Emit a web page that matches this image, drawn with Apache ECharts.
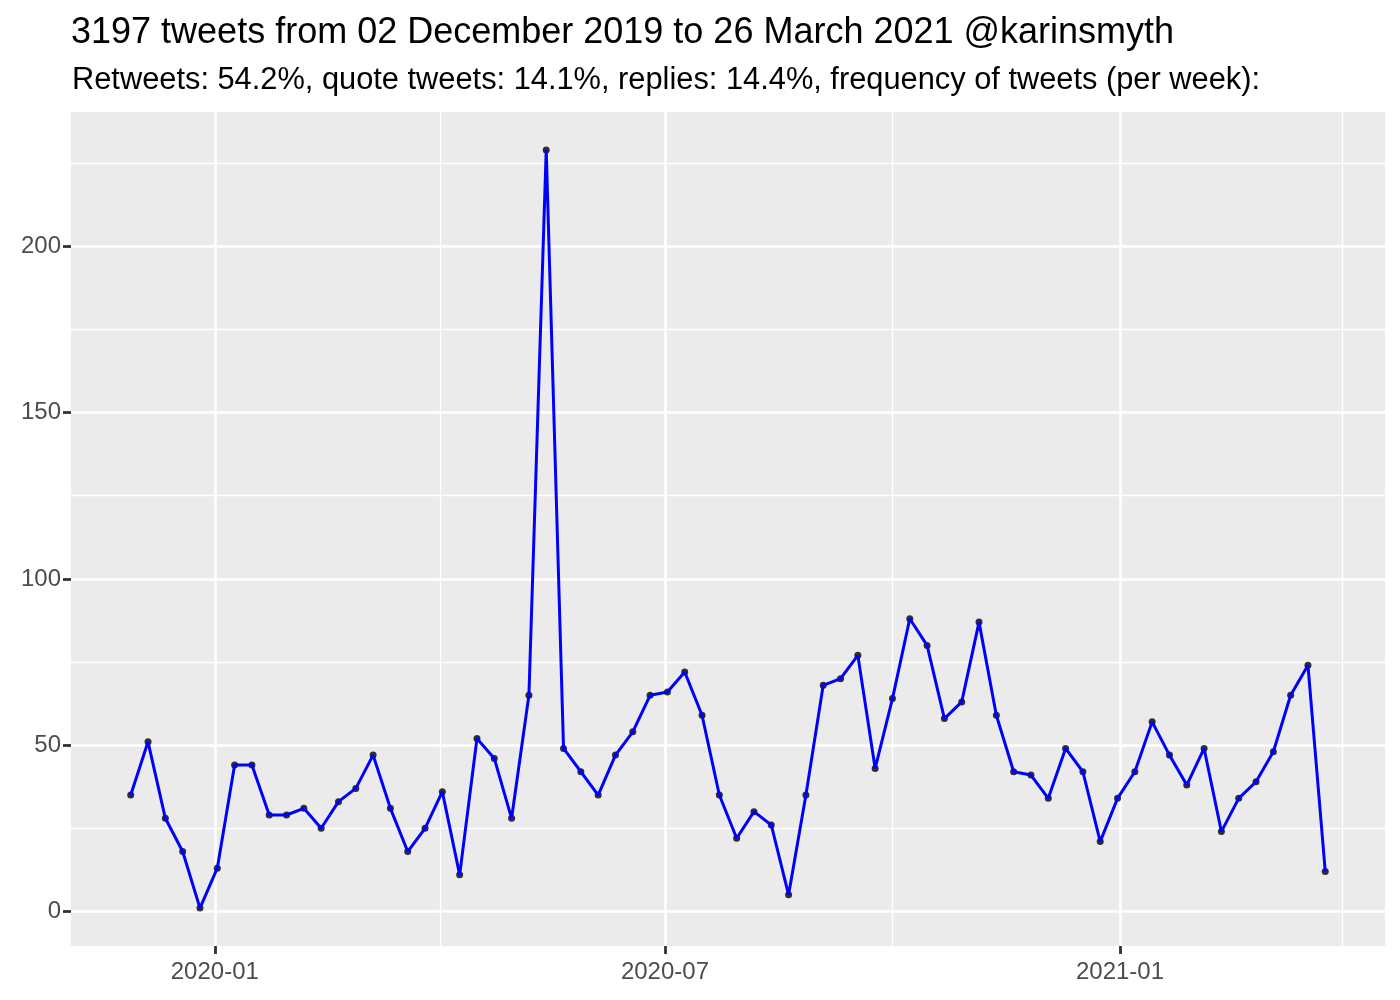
<!DOCTYPE html>
<html>
<head>
<meta charset="utf-8">
<title>tweets per week</title>
<script src="https://cdn.jsdelivr.net/npm/echarts@6/dist/echarts.min.js"></script>
<style>
  html, body { margin: 0; padding: 0; background: #fff; }
  #chart { width: 1400px; height: 1000px; }
</style>
</head>
<body>
<div id="chart"></div>
<script>
// weekly bins, first bin starts 2019-11-28
const firstWeek = "2019-11-28";
const tweetsPerWeek = [
  35, 51, 28, 18, 1, 13, 44, 44, 29, 29,
  31, 25, 33, 37, 47, 31, 18, 25, 36, 11,
  52, 46, 28, 65, 229, 49, 42, 35, 47, 54,
  65, 66, 72, 59, 35, 22, 30, 26, 5, 35,
  68, 70, 77, 43, 64, 88, 80, 58, 63, 87,
  59, 42, 41, 34, 49, 42, 21, 34, 42, 57,
  47, 38, 49, 24, 34, 39, 48, 65, 74, 12
];
const xMajorTicks = ["2020-01-01", "2020-07-01", "2021-01-01"];
const xMinorTicks = ["2020-04-01", "2020-10-01", "2021-04-01"];
const yMajorTicks = [0, 50, 100, 150, 200];
const yMinorTicks = [25, 75, 125, 175, 225];

const titleText = "3197 tweets from 02 December 2019 to 26 March 2021 @karinsmyth";
const subtitleText = "Retweets: 54.2%, quote tweets: 14.1%, replies: 14.4%, frequency of tweets (per week):";

const DAY = 24 * 3600 * 1000;
const toTime = s => Date.parse(s + "T00:00:00Z");
const start = toTime(firstWeek);
const points = tweetsPerWeek.map((v, i) => [start + i * 7 * DAY, v]);

// ggplot style 5% expansion on both axes
const tFirst = points[0][0];
const tLast = points[points.length - 1][0];
const tPad = (tLast - tFirst) * 0.05;
const vMin = Math.min(...tweetsPerWeek);
const vMax = Math.max(...tweetsPerWeek);
const vPad = (vMax - vMin) * 0.05;

const font = "Liberation Sans, Arial, Helvetica, sans-serif";
const pad2 = n => (n < 10 ? "0" : "") + n;

// x is a plain value axis holding timestamps, so ticks can be placed by hand
const xBase = {
  type: "value",
  min: tFirst - tPad,
  max: tLast + tPad,
  position: "bottom",
  axisLine: { show: false, onZero: false }
};
const yBase = {
  type: "value",
  min: vMin - vPad,
  max: vMax + vPad,
  position: "left",
  axisLine: { show: false, onZero: false }
};

const option = {
  animation: false,
  title: [
    {
      text: titleText,
      left: 66,
      top: 10,
      textStyle: { fontFamily: font, fontSize: 36, fontWeight: "normal", color: "#000" }
    },
    {
      text: subtitleText,
      left: 67,
      top: 60,
      textStyle: { fontFamily: font, fontSize: 30.8, fontWeight: "normal", color: "#000" }
    }
  ],
  grid: {
    left: 71,
    right: 15,
    top: 112,
    bottom: 54,
    show: true,
    backgroundColor: "#EBEBEB",
    borderWidth: 0
  },
  xAxis: [
    Object.assign({}, xBase, {
      axisTick: {
        show: true,
        inside: false,
        length: 8,
        lineStyle: { color: "#333333", width: 2.8 },
        customValues: xMajorTicks.map(toTime)
      },
      axisLabel: {
        customValues: xMajorTicks.map(toTime),
        margin: 14,
        fontFamily: font,
        fontSize: 24,
        color: "#4D4D4D",
        formatter: v => {
          const d = new Date(v);
          return d.getUTCFullYear() + "-" + pad2(d.getUTCMonth() + 1);
        }
      },
      splitLine: { show: true, lineStyle: { color: "#FFFFFF", width: 2.6 } }
    }),
    Object.assign({}, xBase, {
      axisTick: { show: false, customValues: xMinorTicks.map(toTime) },
      axisLabel: { show: false, customValues: xMinorTicks.map(toTime) },
      splitLine: { show: true, lineStyle: { color: "#FFFFFF", width: 1.3 } }
    })
  ],
  yAxis: [
    Object.assign({}, yBase, {
      axisTick: {
        show: true,
        length: 8,
        lineStyle: { color: "#333333", width: 2.8 },
        customValues: yMajorTicks
      },
      axisLabel: {
        customValues: yMajorTicks,
        margin: 10,
        fontFamily: font,
        fontSize: 24,
        color: "#4D4D4D"
      },
      splitLine: { show: true, lineStyle: { color: "#FFFFFF", width: 2.6 } }
    }),
    Object.assign({}, yBase, {
      axisTick: { show: false, customValues: yMinorTicks },
      axisLabel: { show: false, customValues: yMinorTicks },
      splitLine: { show: true, lineStyle: { color: "#FFFFFF", width: 1.3 } }
    })
  ],
  series: [
    {
      name: "points",
      type: "scatter",
      xAxisIndex: 0,
      yAxisIndex: 0,
      symbol: "circle",
      symbolSize: 7,
      itemStyle: { color: "#000000" },
      z: 2,
      data: points
    },
    {
      name: "tweets",
      type: "line",
      xAxisIndex: 0,
      yAxisIndex: 0,
      showSymbol: false,
      lineStyle: { color: "#0000FF", width: 3 },
      z: 3,
      data: points
    }
  ]
};

const chart = echarts.init(document.getElementById("chart"), null, { renderer: "canvas" });
chart.setOption(option);
</script>
</body>
</html>
